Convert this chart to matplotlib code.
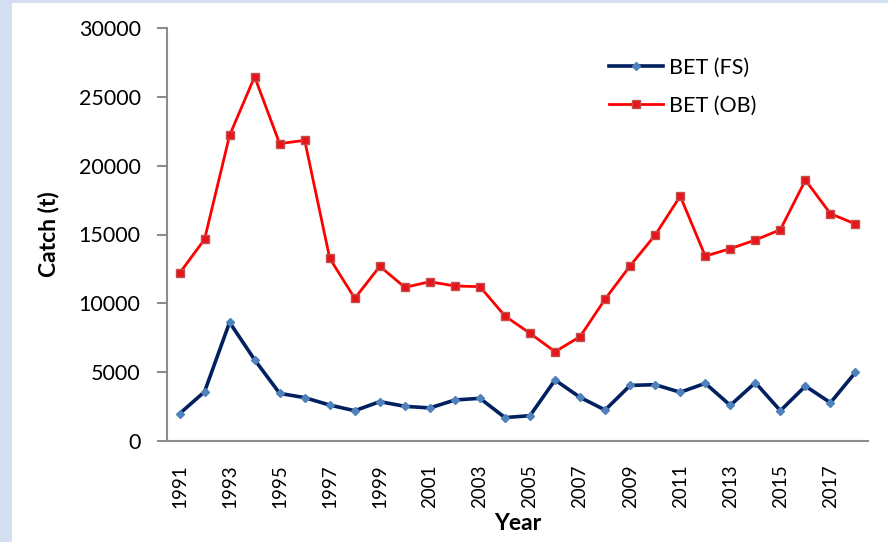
import matplotlib
import matplotlib.pyplot as plt
import numpy as np
from matplotlib.patches import Rectangle

matplotlib.pyplot.switch_backend('Agg')

years = [str(y) for y in range(1991, 2019)]
bet_fs = [1980, 3580, 8620, 5900, 3460, 3150, 2610, 2200, 2860, 2520,
          2400, 2980, 3100, 1700, 1840, 4430, 3170, 2250, 4040, 4090,
          3540, 4190, 2590, 4240, 2200, 3990, 2780, 4990]
bet_ob = [12180, 14650, 22200, 26460, 21600, 21840, 13270, 10360, 12690, 11160,
          11570, 11260, 11210, 9080, 7820, 6490, 7580, 10310, 12730, 14960,
          17790, 13430, 13970, 14600, 15350, 18950, 16510, 15760]

plt.rcParams['font.family'] = ['Lato', 'DejaVu Sans']

fig = plt.figure(figsize=(8.88, 5.42), dpi=100)
fig.patch.set_facecolor('#d3def1')
# white slide panel, blue strip left and top
fig.add_artist(Rectangle((12 / 888, 0), 1, 1 - 3 / 542, transform=fig.transFigure,
                         facecolor='white', edgecolor='none', zorder=-10))

ax = fig.add_axes([167 / 888, 101 / 542, 701 / 888, 413 / 542])
ax.set_zorder(5)
ax.set_facecolor('none')
x = np.arange(len(years))

ax.plot(x, bet_fs, color='#002060', linewidth=2.6, marker='D', markersize=4.5,
        markerfacecolor='#4f81bd', markeredgecolor='#4f81bd', label='BET (FS)')
ax.plot(x, bet_ob, color='#ff0000', linewidth=2.0, marker='s', markersize=5.5,
        markerfacecolor='#e8141c', markeredgecolor='#c0504d', markeredgewidth=1.0,
        label='BET (OB)')

ax.set_xlim(-0.5, len(years) - 0.5)
ax.set_ylim(0, 30000)
ax.set_yticks(np.arange(0, 30001, 5000))
ax.set_xticks(x[::2])
ax.set_xticklabels(years[::2], rotation=90, fontsize=13.5)
ax.tick_params(axis='x', length=0, pad=17)
ax.tick_params(axis='y', labelsize=15.5, length=7, width=1.5, color='#8c8c8c', pad=12)

for side in ['top', 'right']:
    ax.spines[side].set_visible(False)
for side in ['left', 'bottom']:
    ax.spines[side].set_color('#8c8c8c')
    ax.spines[side].set_linewidth(1.5)

ax.set_ylabel('Catch (t)', fontsize=16.5, fontweight='bold', labelpad=14)
ax.set_xlabel('Year', fontsize=16.5, fontweight='bold', labelpad=3)

ax.legend(loc='upper left', bbox_to_anchor=(0.603, 0.975), frameon=False, fontsize=15.5,
          handlelength=2.5, handletextpad=0.3, labelspacing=0.85)

plt.savefig('out.png', dpi=100, facecolor=fig.get_facecolor())
